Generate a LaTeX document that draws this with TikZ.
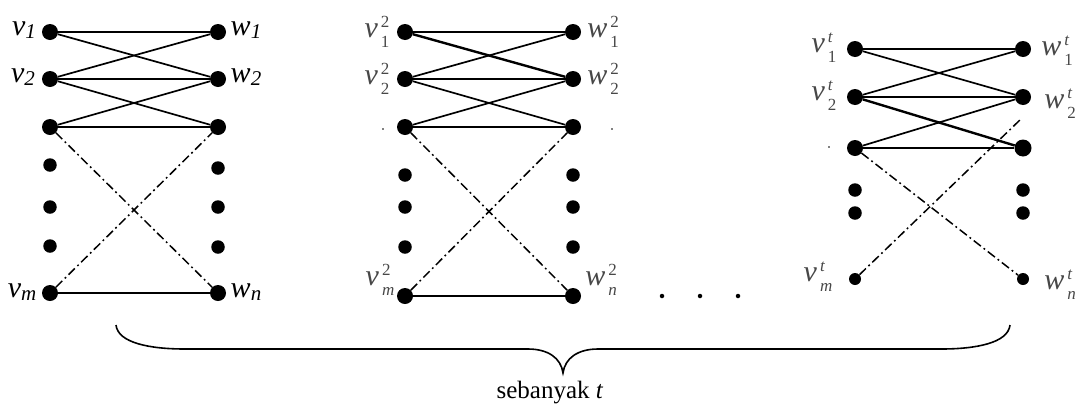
\documentclass[tikz,border=0pt]{standalone}
\usepackage{fontspec}
\setmainfont{Liberation Serif}
\begin{document}
\begin{tikzpicture}[x=1pt,y=-1pt,
  vtx/.style={circle,fill=black,inner sep=0pt,minimum size=16pt},
  gapdot/.style={circle,fill=black,inner sep=0pt,minimum size=13.5pt},
  speck/.style={circle,fill=black,inner sep=0pt,minimum size=1.8pt},
  edge/.style={line width=1.7pt},
  heavy/.style={line width=2.4pt},
  dashdot/.style={line width=1.5pt,dash pattern=on 9pt off 3.5pt on 1.8pt off 3.5pt},
  lab/.style={inner sep=0pt,font=\fontsize{30}{32}\selectfont},
  glab/.style={lab,text=black!72},
  brace/.style={line width=1.6pt}]
\useasboundingbox (0,0) rectangle (1083,405);

% label macros: plain subscript, and stacked sub/superscript
\newcommand\sublab[2]{\textit{#1}\raisebox{-3pt}{\fontsize{21}{21}\selectfont\itshape #2}}
\newcommand\stklab[3]{\textit{#1}\hspace{3pt}\raisebox{-1pt}{\fontsize{17}{17}\selectfont
  \begin{tabular}[c]{@{}l@{}}#3\\[3pt]#2\end{tabular}}}

% ---------- first graph ----------
\node[vtx] (a1) at (50,32) {};
\node[vtx] (a2) at (50,79) {};
\node[vtx] (a3) at (50,127) {};
\node[gapdot] (ad1) at (50,165) {};
\node[gapdot] (ad2) at (50,207) {};
\node[gapdot] (ad3) at (50,246) {};
\node[vtx] (am) at (50,293) {};
\node[vtx] (b1) at (218,32) {};
\node[vtx] (b2) at (218,79) {};
\node[vtx] (b3) at (218,127) {};
\node[gapdot] (bd1) at (218,168) {};
\node[gapdot] (bd2) at (218,207) {};
\node[gapdot] (bd3) at (218,247) {};
\node[vtx] (bn) at (218,293) {};
\draw[edge] (a1) -- (b1);
\draw[edge] (a1) -- (b2);
\draw[edge] (a2) -- (b1);
\draw[edge] (a2) -- (b2);
\draw[edge] (a2) -- (b3);
\draw[edge] (a3) -- (b2);
\draw[edge] (a3) -- (b3);
\draw[edge] (am) -- (bn);
\draw[dashdot] (a3) -- (bn);
\draw[dashdot] (am) -- (b3);
\node[lab] (la1) at (24,30) {\sublab{v}{1}};
\node[lab] (la2) at (23,77) {\sublab{v}{2}};
\node[lab] (lam) at (22,292) {\sublab{v}{m}};
\node[lab] (lb1) at (246,30) {\sublab{w}{1}};
\node[lab] (lb2) at (246,77) {\sublab{w}{2}};
\node[lab] (lbn) at (246,292) {\sublab{w}{n}};

% ---------- second graph ----------
\node[vtx] (c1) at (405,32) {};
\node[vtx] (c2) at (405,79) {};
\node[vtx] (c3) at (405,127) {};
\node[gapdot] (cd1) at (405,175) {};
\node[gapdot] (cd2) at (405,207) {};
\node[gapdot] (cd3) at (405,247) {};
\node[vtx] (cm) at (405,296) {};
\node[vtx] (d1) at (573,32) {};
\node[vtx] (d2) at (573,79) {};
\node[vtx] (d3) at (573,127) {};
\node[gapdot] (dd1) at (573,175) {};
\node[gapdot] (dd2) at (573,207) {};
\node[gapdot] (dd3) at (573,247) {};
\node[vtx] (dn) at (573,296) {};
\draw[edge] (c1) -- (d1);
\draw[heavy] (c1) -- (d2);
\draw[edge] (c2) -- (d1);
\draw[edge] (c2) -- (d2);
\draw[edge] (c2) -- (d3);
\draw[edge] (c3) -- (d2);
\draw[edge] (c3) -- (d3);
\draw[edge] (cm) -- (dn);
\draw[dashdot] (c3) -- (dn);
\draw[dashdot] (cm) -- (d3);
\node[glab] (lc1) at (377,34) {\stklab{v}{1}{2}};
\node[glab] (lc2) at (377,81) {\stklab{v}{2}{2}};
\node[glab] (lcm) at (380,282) {\stklab{v}{\textit{m}}{2}};
\node[glab] (ld1) at (603,34) {\stklab{w}{1}{2}};
\node[glab] (ld2) at (603,81) {\stklab{w}{2}{2}};
\node[glab] (ldn) at (601,282) {\stklab{w}{\textit{n}}{2}};
\node[speck] (sc) at (383,129) {};
\node[speck] (sd) at (612,129) {};

% ---------- gap between the graphs ----------
\node[speck,minimum size=4.5pt] (g1) at (662,296) {};
\node[speck,minimum size=4.5pt] (g2) at (700,296) {};
\node[speck,minimum size=4.5pt] (g3) at (738,296) {};

% ---------- last graph ----------
\node[vtx] (e1) at (855,49) {};
\node[vtx] (e2) at (855,97) {};
\node[vtx] (e3) at (855,148) {};
\node[gapdot] (ed1) at (855,190) {};
\node[gapdot] (ed2) at (855,213) {};
\node[gapdot,minimum size=12pt] (em) at (855,279) {};
\node[vtx] (f1) at (1023,49) {};
\node[vtx] (f2) at (1023,97) {};
\node[vtx,minimum size=17pt] (f3) at (1023,148) {};
\node[gapdot] (fd1) at (1023,190) {};
\node[gapdot] (fd2) at (1023,213) {};
\node[gapdot,minimum size=12pt] (fn) at (1023,279) {};
\coordinate (fx) at (1022,118);
\draw[heavy] (e1) -- (f1);
\draw[edge] (e1) -- (f2);
\draw[edge] (e2) -- (f1);
\draw[heavy] (e2) -- (f2);
\draw[heavy] (e2) -- (f3);
\draw[edge] (e3) -- (f2);
\draw[heavy] (e3) -- (f3);
\draw[dashdot] (e3) -- (fn);
\draw[dashdot] (em) -- (fx);
\node[glab] (le1) at (824,49) {\stklab{v}{1}{\textit{t}}};
\node[glab] (le2) at (824,97) {\stklab{v}{2}{\textit{t}}};
\node[glab] (lem) at (818,278) {\stklab{v}{\textit{m}}{\textit{t}}};
\node[glab] (lf1) at (1057,52) {\stklab{w}{1}{\textit{t}}};
\node[glab] (lf2) at (1060,105) {\stklab{w}{2}{\textit{t}}};
\node[glab] (lfn) at (1060,286) {\stklab{w}{\textit{n}}{\textit{t}}};
\node[speck] (se) at (829,147) {};

% ---------- brace with its count ----------
\coordinate (bl) at (116,325);
\coordinate (br) at (1010,325);
\coordinate (tip) at (563,373);
\draw[brace] (bl) .. controls (118,343) and (150,349) .. (185,349)
  -- (528,349) .. controls (548,349) and (561,358) .. (tip)
  .. controls (565,358) and (578,349) .. (598,349)
  -- (941,349) .. controls (976,349) and (1008,343) .. (br);
\node[inner sep=0pt,font=\fontsize{25}{27}\selectfont,anchor=base] (cnt) at (550,398) {sebanyak \textit{t}};
\end{tikzpicture}
\end{document}
